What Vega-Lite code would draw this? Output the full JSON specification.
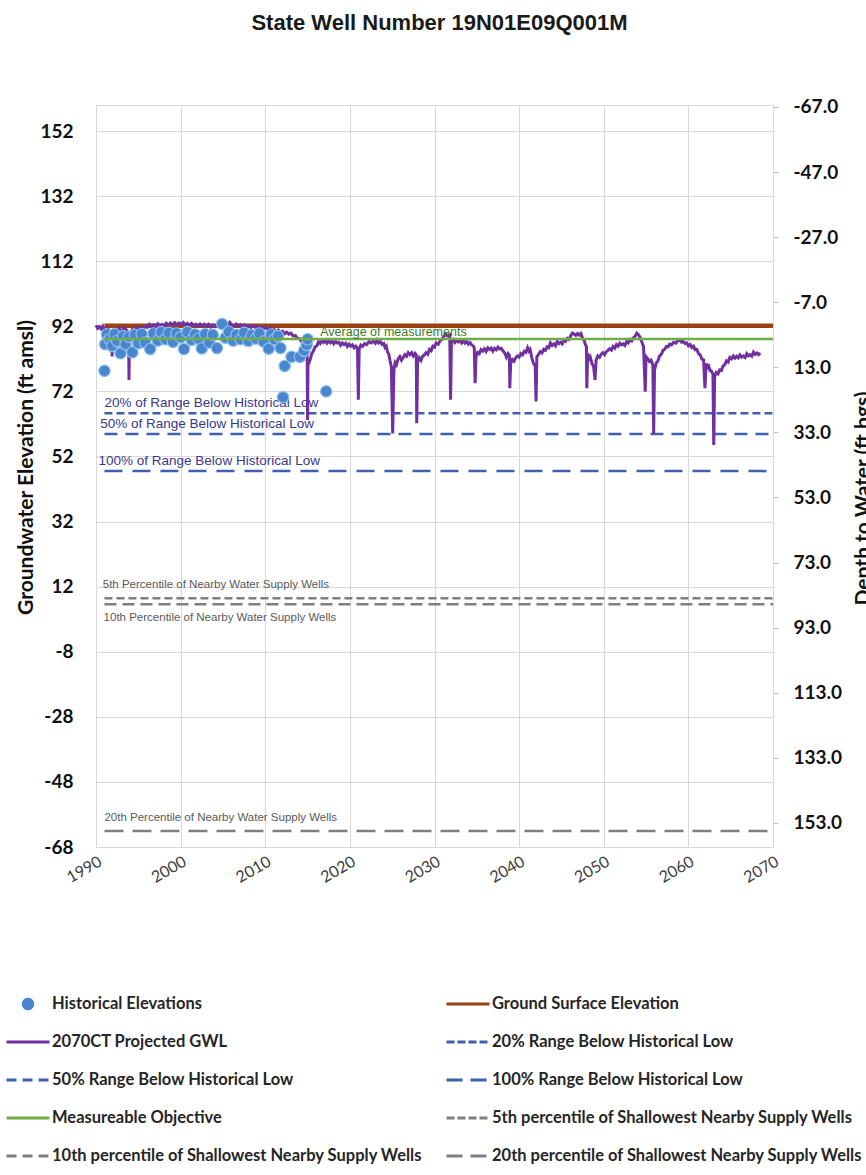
{
  "$schema": "https://vega.github.io/schema/vega-lite/v6.json",
  "width": 677,
  "height": 742,
  "autosize": {"type": "none"},
  "padding": {"left": 96, "top": 105, "right": 93, "bottom": 328},
  "background": "white",
  "title": {"text": "State Well Number 19N01E09Q001M", "font": "Liberation Sans", "fontSize": 22, "fontWeight": "bold", "color": "#1a1a1a", "anchor": "middle", "frame": "group", "offset": 63, "dx": 5},
  "config": {
    "view": {"stroke": "#D9D9D9", "strokeWidth": 1},
    "axis": {"gridColor": "#D9D9D9", "gridWidth": 1},
    "font": "Lato"
  },
  "datasets": {
    "gwl": [
      {"year": 1990.0, "elev": 92.3}, {"year": 1990.2, "elev": 91.4}, {"year": 1990.4, "elev": 91.9}, {"year": 1990.6, "elev": 91.2}, {"year": 1990.8, "elev": 92.0}, {"year": 1991.0, "elev": 90.6}, {"year": 1991.2, "elev": 90.2},
      {"year": 1991.4, "elev": 91.3}, {"year": 1991.6, "elev": 90.6}, {"year": 1991.85, "elev": 89.5}, {"year": 1991.9, "elev": 82.7}, {"year": 1991.95, "elev": 89.0},
      {"year": 1992.1, "elev": 90.3}, {"year": 1992.3, "elev": 90.8}, {"year": 1992.5, "elev": 90.1}, {"year": 1992.7, "elev": 91.4}, {"year": 1992.9, "elev": 90.8}, {"year": 1993.1, "elev": 90.5}, {"year": 1993.3, "elev": 91.5}, {"year": 1993.5, "elev": 91.2},
      {"year": 1993.85, "elev": 89.8}, {"year": 1993.9, "elev": 75.5}, {"year": 1993.95, "elev": 89.5}, {"year": 1994.1, "elev": 90.2}, {"year": 1994.3, "elev": 91.0},
      {"year": 1994.55, "elev": 90.4}, {"year": 1994.8, "elev": 91.8}, {"year": 1995.05, "elev": 91.0}, {"year": 1995.3, "elev": 91.6}, {"year": 1995.55, "elev": 91.0}, {"year": 1995.8, "elev": 92.0}, {"year": 1996.05, "elev": 91.7}, {"year": 1996.3, "elev": 92.6},
      {"year": 1996.55, "elev": 91.9}, {"year": 1996.8, "elev": 92.5}, {"year": 1997.05, "elev": 92.0}, {"year": 1997.3, "elev": 92.8}, {"year": 1997.55, "elev": 92.1}, {"year": 1997.8, "elev": 92.6}, {"year": 1998.05, "elev": 92.0}, {"year": 1998.3, "elev": 92.9},
      {"year": 1998.55, "elev": 92.3}, {"year": 1998.8, "elev": 93.0}, {"year": 1999.05, "elev": 92.4}, {"year": 1999.3, "elev": 93.1}, {"year": 1999.55, "elev": 92.5}, {"year": 1999.8, "elev": 93.0}, {"year": 2000.05, "elev": 92.6}, {"year": 2000.3, "elev": 93.2},
      {"year": 2000.55, "elev": 92.4}, {"year": 2000.8, "elev": 92.9}, {"year": 2001.05, "elev": 92.3}, {"year": 2001.3, "elev": 92.9}, {"year": 2001.55, "elev": 92.1}, {"year": 2001.8, "elev": 92.6}, {"year": 2002.05, "elev": 92.0}, {"year": 2002.3, "elev": 92.7},
      {"year": 2002.55, "elev": 92.1}, {"year": 2002.8, "elev": 92.6}, {"year": 2003.05, "elev": 91.9}, {"year": 2003.3, "elev": 92.6}, {"year": 2003.55, "elev": 91.8}, {"year": 2003.8, "elev": 92.4}, {"year": 2004.05, "elev": 91.9}, {"year": 2004.3, "elev": 92.5},
      {"year": 2004.55, "elev": 92.0}, {"year": 2004.8, "elev": 92.7}, {"year": 2005.05, "elev": 92.2}, {"year": 2005.3, "elev": 92.8}, {"year": 2005.55, "elev": 92.4}, {"year": 2005.8, "elev": 93.2}, {"year": 2006.05, "elev": 92.4}, {"year": 2006.3, "elev": 92.0},
      {"year": 2006.55, "elev": 92.7}, {"year": 2006.8, "elev": 92.1}, {"year": 2007.05, "elev": 92.5}, {"year": 2007.3, "elev": 91.8}, {"year": 2007.55, "elev": 92.4}, {"year": 2007.8, "elev": 91.9}, {"year": 2008.05, "elev": 92.3}, {"year": 2008.3, "elev": 91.6},
      {"year": 2008.55, "elev": 92.2}, {"year": 2008.8, "elev": 91.7}, {"year": 2009.05, "elev": 92.0}, {"year": 2009.3, "elev": 91.4}, {"year": 2009.55, "elev": 91.9}, {"year": 2009.8, "elev": 91.3}, {"year": 2010.05, "elev": 91.7}, {"year": 2010.3, "elev": 91.0},
      {"year": 2010.55, "elev": 91.4}, {"year": 2010.8, "elev": 90.6}, {"year": 2011.05, "elev": 91.0}, {"year": 2011.3, "elev": 90.2}, {"year": 2011.55, "elev": 90.8}, {"year": 2011.8, "elev": 90.1}, {"year": 2012.05, "elev": 90.5}, {"year": 2012.3, "elev": 89.7},
      {"year": 2012.55, "elev": 90.2}, {"year": 2012.8, "elev": 89.6}, {"year": 2013.05, "elev": 89.9}, {"year": 2013.3, "elev": 89.0}, {"year": 2013.55, "elev": 89.2}, {"year": 2013.8, "elev": 88.3}, {"year": 2014.05, "elev": 88.2}, {"year": 2014.3, "elev": 87.2},
      {"year": 2014.55, "elev": 86.9}, {"year": 2014.8, "elev": 85.8}, {"year": 2014.95, "elev": 84.0}, {"year": 2015.0, "elev": 63.2}, {"year": 2015.05, "elev": 80.0},
      {"year": 2015.3, "elev": 81.7}, {"year": 2015.5, "elev": 83.6}, {"year": 2015.7, "elev": 84.5}, {"year": 2015.9, "elev": 85.7}, {"year": 2016.1, "elev": 86.0}, {"year": 2016.3, "elev": 87.3}, {"year": 2016.5, "elev": 86.7},
      {"year": 2016.7, "elev": 87.6}, {"year": 2016.9, "elev": 87.0}, {"year": 2017.1, "elev": 87.6}, {"year": 2017.3, "elev": 86.8}, {"year": 2017.5, "elev": 87.5}, {"year": 2017.7, "elev": 86.9}, {"year": 2017.9, "elev": 87.4}, {"year": 2018.1, "elev": 86.6},
      {"year": 2018.3, "elev": 87.4}, {"year": 2018.5, "elev": 86.9}, {"year": 2018.7, "elev": 87.1}, {"year": 2018.9, "elev": 86.2}, {"year": 2019.1, "elev": 86.9}, {"year": 2019.3, "elev": 86.4}, {"year": 2019.5, "elev": 86.8}, {"year": 2019.7, "elev": 85.8},
      {"year": 2019.9, "elev": 86.5}, {"year": 2020.1, "elev": 85.9}, {"year": 2020.3, "elev": 86.3}, {"year": 2020.5, "elev": 85.4}, {"year": 2020.7, "elev": 85.9}, {"year": 2020.9, "elev": 85.2}, {"year": 2021.0, "elev": 69.4},
      {"year": 2021.1, "elev": 85.0}, {"year": 2021.3, "elev": 86.2}, {"year": 2021.5, "elev": 85.8}, {"year": 2021.75, "elev": 86.7}, {"year": 2022.0, "elev": 86.4}, {"year": 2022.25, "elev": 87.3}, {"year": 2022.5, "elev": 86.9}, {"year": 2022.75, "elev": 87.4},
      {"year": 2023.0, "elev": 86.8}, {"year": 2023.2, "elev": 87.8}, {"year": 2023.4, "elev": 86.9}, {"year": 2023.6, "elev": 87.3}, {"year": 2023.8, "elev": 86.4}, {"year": 2024.0, "elev": 86.7},
      {"year": 2024.15, "elev": 85.5}, {"year": 2024.3, "elev": 85.9}, {"year": 2024.45, "elev": 84.1}, {"year": 2024.6, "elev": 83.5}, {"year": 2024.75, "elev": 81.4}, {"year": 2024.9, "elev": 79.6}, {"year": 2025.06, "elev": 59.1},
      {"year": 2025.2, "elev": 78.6}, {"year": 2025.35, "elev": 80.8}, {"year": 2025.5, "elev": 80.2}, {"year": 2025.7, "elev": 82.0}, {"year": 2025.9, "elev": 82.7}, {"year": 2026.1, "elev": 81.6}, {"year": 2026.3, "elev": 82.4},
      {"year": 2026.5, "elev": 83.3}, {"year": 2026.7, "elev": 82.8}, {"year": 2026.9, "elev": 83.9}, {"year": 2027.1, "elev": 83.3}, {"year": 2027.3, "elev": 83.9}, {"year": 2027.5, "elev": 82.9}, {"year": 2027.7, "elev": 83.7}, {"year": 2027.85, "elev": 83.2},
      {"year": 2027.9, "elev": 62.2}, {"year": 2028.0, "elev": 81.0}, {"year": 2028.2, "elev": 82.3}, {"year": 2028.4, "elev": 81.5}, {"year": 2028.6, "elev": 82.8}, {"year": 2028.8, "elev": 83.2}, {"year": 2029.0, "elev": 83.9},
      {"year": 2029.2, "elev": 83.4}, {"year": 2029.4, "elev": 84.9}, {"year": 2029.6, "elev": 84.5}, {"year": 2029.8, "elev": 85.9}, {"year": 2030.0, "elev": 85.6}, {"year": 2030.2, "elev": 86.9}, {"year": 2030.45, "elev": 86.5},
      {"year": 2030.7, "elev": 87.7}, {"year": 2030.9, "elev": 88.0}, {"year": 2031.1, "elev": 88.9}, {"year": 2031.3, "elev": 89.6}, {"year": 2031.5, "elev": 89.1}, {"year": 2031.8, "elev": 89.4},
      {"year": 2031.9, "elev": 69.4}, {"year": 2032.0, "elev": 87.3}, {"year": 2032.2, "elev": 87.9}, {"year": 2032.4, "elev": 87.0}, {"year": 2032.6, "elev": 87.7}, {"year": 2032.8, "elev": 87.2}, {"year": 2033.0, "elev": 87.8},
      {"year": 2033.2, "elev": 86.9}, {"year": 2033.4, "elev": 87.5}, {"year": 2033.6, "elev": 86.8}, {"year": 2033.8, "elev": 87.4}, {"year": 2034.0, "elev": 86.5}, {"year": 2034.2, "elev": 87.0}, {"year": 2034.4, "elev": 86.3},
      {"year": 2034.6, "elev": 85.9}, {"year": 2034.7, "elev": 85.3}, {"year": 2034.8, "elev": 74.5}, {"year": 2034.9, "elev": 82.7}, {"year": 2035.1, "elev": 84.0}, {"year": 2035.3, "elev": 83.6}, {"year": 2035.5, "elev": 84.8},
      {"year": 2035.7, "elev": 84.4}, {"year": 2035.9, "elev": 85.1}, {"year": 2036.1, "elev": 84.3}, {"year": 2036.3, "elev": 85.4}, {"year": 2036.5, "elev": 84.9}, {"year": 2036.7, "elev": 85.3}, {"year": 2036.9, "elev": 84.4},
      {"year": 2037.1, "elev": 85.2}, {"year": 2037.3, "elev": 84.8}, {"year": 2037.5, "elev": 85.6}, {"year": 2037.7, "elev": 85.0}, {"year": 2037.9, "elev": 85.2}, {"year": 2038.1, "elev": 84.4}, {"year": 2038.3, "elev": 83.8}, {"year": 2038.5, "elev": 82.5},
      {"year": 2038.7, "elev": 83.6}, {"year": 2038.85, "elev": 83.1}, {"year": 2038.9, "elev": 73.0}, {"year": 2039.0, "elev": 80.6}, {"year": 2039.2, "elev": 81.8}, {"year": 2039.4, "elev": 81.3}, {"year": 2039.6, "elev": 82.4},
      {"year": 2039.8, "elev": 82.9}, {"year": 2040.0, "elev": 82.5}, {"year": 2040.2, "elev": 83.6}, {"year": 2040.4, "elev": 83.2}, {"year": 2040.6, "elev": 84.3}, {"year": 2040.8, "elev": 84.0}, {"year": 2041.0, "elev": 85.4},
      {"year": 2041.15, "elev": 84.4}, {"year": 2041.3, "elev": 84.9}, {"year": 2041.5, "elev": 82.3}, {"year": 2041.7, "elev": 80.6}, {"year": 2041.9, "elev": 79.8}, {"year": 2042.0, "elev": 68.9}, {"year": 2042.1, "elev": 82.7},
      {"year": 2042.3, "elev": 83.4}, {"year": 2042.5, "elev": 84.2}, {"year": 2042.7, "elev": 83.8}, {"year": 2042.9, "elev": 84.9}, {"year": 2043.1, "elev": 84.6}, {"year": 2043.3, "elev": 85.7}, {"year": 2043.5, "elev": 85.4},
      {"year": 2043.7, "elev": 86.9}, {"year": 2043.9, "elev": 86.1}, {"year": 2044.1, "elev": 86.6}, {"year": 2044.3, "elev": 86.0}, {"year": 2044.5, "elev": 87.4}, {"year": 2044.7, "elev": 86.7}, {"year": 2044.9, "elev": 87.1},
      {"year": 2045.1, "elev": 86.6}, {"year": 2045.3, "elev": 87.8}, {"year": 2045.5, "elev": 87.4}, {"year": 2045.7, "elev": 88.3}, {"year": 2045.9, "elev": 88.0}, {"year": 2046.1, "elev": 89.1}, {"year": 2046.3, "elev": 89.9},
      {"year": 2046.5, "elev": 89.6}, {"year": 2046.7, "elev": 89.2}, {"year": 2046.9, "elev": 89.8}, {"year": 2047.1, "elev": 89.3}, {"year": 2047.3, "elev": 89.8}, {"year": 2047.5, "elev": 88.3}, {"year": 2047.7, "elev": 87.6},
      {"year": 2047.8, "elev": 86.6}, {"year": 2047.95, "elev": 85.8}, {"year": 2048.0, "elev": 73.0}, {"year": 2048.1, "elev": 83.7}, {"year": 2048.25, "elev": 82.0}, {"year": 2048.4, "elev": 82.6}, {"year": 2048.6, "elev": 80.6},
      {"year": 2048.8, "elev": 79.6}, {"year": 2048.97, "elev": 75.5}, {"year": 2049.1, "elev": 81.7}, {"year": 2049.3, "elev": 82.9}, {"year": 2049.5, "elev": 82.5}, {"year": 2049.7, "elev": 83.4}, {"year": 2049.9, "elev": 83.9},
      {"year": 2050.1, "elev": 83.3}, {"year": 2050.3, "elev": 84.2}, {"year": 2050.5, "elev": 84.6}, {"year": 2050.7, "elev": 85.1}, {"year": 2050.9, "elev": 84.7}, {"year": 2051.1, "elev": 85.8}, {"year": 2051.3, "elev": 85.3},
      {"year": 2051.5, "elev": 86.4}, {"year": 2051.7, "elev": 85.9}, {"year": 2051.9, "elev": 86.8}, {"year": 2052.1, "elev": 86.3}, {"year": 2052.3, "elev": 86.6}, {"year": 2052.5, "elev": 86.1}, {"year": 2052.7, "elev": 87.3},
      {"year": 2052.9, "elev": 86.9}, {"year": 2053.1, "elev": 87.9}, {"year": 2053.3, "elev": 87.5}, {"year": 2053.5, "elev": 88.5}, {"year": 2053.7, "elev": 88.9}, {"year": 2053.9, "elev": 89.9}, {"year": 2054.1, "elev": 89.4},
      {"year": 2054.3, "elev": 88.6}, {"year": 2054.5, "elev": 87.2}, {"year": 2054.7, "elev": 85.8}, {"year": 2054.9, "elev": 71.9}, {"year": 2055.0, "elev": 82.7}, {"year": 2055.2, "elev": 82.1}, {"year": 2055.4, "elev": 81.2},
      {"year": 2055.6, "elev": 81.6}, {"year": 2055.8, "elev": 80.1}, {"year": 2055.9, "elev": 59.1}, {"year": 2056.0, "elev": 78.6}, {"year": 2056.2, "elev": 80.7}, {"year": 2056.4, "elev": 81.4}, {"year": 2056.6, "elev": 82.9},
      {"year": 2056.8, "elev": 83.4}, {"year": 2057.0, "elev": 84.6}, {"year": 2057.2, "elev": 84.9}, {"year": 2057.4, "elev": 85.8}, {"year": 2057.6, "elev": 85.7}, {"year": 2057.8, "elev": 86.5}, {"year": 2058.0, "elev": 86.3},
      {"year": 2058.25, "elev": 87.1}, {"year": 2058.5, "elev": 86.8}, {"year": 2058.75, "elev": 87.5}, {"year": 2059.0, "elev": 87.8}, {"year": 2059.2, "elev": 87.1}, {"year": 2059.4, "elev": 87.4}, {"year": 2059.6, "elev": 86.7},
      {"year": 2059.8, "elev": 86.9}, {"year": 2060.0, "elev": 86.0}, {"year": 2060.2, "elev": 86.4}, {"year": 2060.4, "elev": 85.5}, {"year": 2060.6, "elev": 85.9}, {"year": 2060.8, "elev": 84.8}, {"year": 2061.0, "elev": 84.9},
      {"year": 2061.2, "elev": 83.6}, {"year": 2061.4, "elev": 83.2}, {"year": 2061.6, "elev": 81.9}, {"year": 2061.8, "elev": 81.7}, {"year": 2061.96, "elev": 73.0}, {"year": 2062.1, "elev": 80.6}, {"year": 2062.25, "elev": 79.4},
      {"year": 2062.4, "elev": 79.8}, {"year": 2062.55, "elev": 78.4}, {"year": 2062.7, "elev": 78.3}, {"year": 2062.9, "elev": 77.4}, {"year": 2063.0, "elev": 55.5}, {"year": 2063.1, "elev": 76.5}, {"year": 2063.3, "elev": 77.8},
      {"year": 2063.5, "elev": 77.4}, {"year": 2063.7, "elev": 78.6}, {"year": 2063.9, "elev": 78.4}, {"year": 2064.1, "elev": 79.8}, {"year": 2064.3, "elev": 80.2}, {"year": 2064.5, "elev": 81.4}, {"year": 2064.7, "elev": 81.0},
      {"year": 2064.9, "elev": 82.4}, {"year": 2065.1, "elev": 82.0}, {"year": 2065.3, "elev": 82.9}, {"year": 2065.5, "elev": 82.2}, {"year": 2065.7, "elev": 82.8}, {"year": 2065.9, "elev": 82.3}, {"year": 2066.1, "elev": 83.2},
      {"year": 2066.3, "elev": 82.5}, {"year": 2066.5, "elev": 82.9}, {"year": 2066.7, "elev": 82.4}, {"year": 2066.9, "elev": 83.6}, {"year": 2067.1, "elev": 82.9}, {"year": 2067.3, "elev": 83.3}, {"year": 2067.5, "elev": 82.8},
      {"year": 2067.7, "elev": 84.1}, {"year": 2067.9, "elev": 83.4}, {"year": 2068.1, "elev": 83.8}, {"year": 2068.3, "elev": 83.3}, {"year": 2068.5, "elev": 83.8}
    ],
    "hist": [
      {"year": 1991.0, "elev": 78.3}, {"year": 1991.1, "elev": 86.5}, {"year": 1991.3, "elev": 89.5}, {"year": 1991.6, "elev": 88.0},
      {"year": 1991.9, "elev": 86.0}, {"year": 1992.2, "elev": 89.6}, {"year": 1992.5, "elev": 87.5}, {"year": 1992.9, "elev": 83.7},
      {"year": 1993.2, "elev": 89.0}, {"year": 1993.5, "elev": 86.5}, {"year": 1993.9, "elev": 88.8}, {"year": 1994.3, "elev": 84.0},
      {"year": 1994.6, "elev": 89.3}, {"year": 1995.0, "elev": 86.8}, {"year": 1995.4, "elev": 89.6}, {"year": 1995.8, "elev": 87.0},
      {"year": 1996.4, "elev": 85.0}, {"year": 1996.8, "elev": 89.8}, {"year": 1997.3, "elev": 87.6}, {"year": 1997.7, "elev": 90.2},
      {"year": 1998.2, "elev": 88.0}, {"year": 1998.6, "elev": 90.0}, {"year": 1999.1, "elev": 87.2}, {"year": 1999.5, "elev": 89.8},
      {"year": 2000.0, "elev": 88.6}, {"year": 2000.4, "elev": 85.0}, {"year": 2000.8, "elev": 90.2}, {"year": 2001.3, "elev": 87.8},
      {"year": 2001.7, "elev": 89.5}, {"year": 2002.1, "elev": 88.2}, {"year": 2002.5, "elev": 85.2}, {"year": 2002.9, "elev": 89.6},
      {"year": 2003.4, "elev": 87.0}, {"year": 2003.8, "elev": 89.4}, {"year": 2004.3, "elev": 85.3}, {"year": 2004.9, "elev": 92.7},
      {"year": 2005.3, "elev": 88.5}, {"year": 2005.7, "elev": 90.3}, {"year": 2006.2, "elev": 87.6}, {"year": 2006.6, "elev": 89.4},
      {"year": 2007.1, "elev": 88.0}, {"year": 2007.5, "elev": 90.0}, {"year": 2008.0, "elev": 87.5}, {"year": 2008.4, "elev": 89.3},
      {"year": 2008.9, "elev": 88.2}, {"year": 2009.3, "elev": 89.8}, {"year": 2009.8, "elev": 87.3}, {"year": 2010.4, "elev": 85.1},
      {"year": 2010.7, "elev": 89.5}, {"year": 2011.1, "elev": 88.0}, {"year": 2011.5, "elev": 89.0}, {"year": 2011.8, "elev": 85.3},
      {"year": 2012.1, "elev": 70.2}, {"year": 2012.3, "elev": 79.8}, {"year": 2013.1, "elev": 82.6}, {"year": 2014.1, "elev": 82.6},
      {"year": 2014.6, "elev": 84.5}, {"year": 2014.9, "elev": 86.3}, {"year": 2015.0, "elev": 88.0}, {"year": 2017.2, "elev": 72.0}
    ],
    "refs": [
      {"series": "Ground Surface Elevation", "year": 1991.0, "end": 2070, "elev": 92.2},
      {"series": "Measureable Objective", "year": 1991.0, "end": 2070, "elev": 88.1},
      {"series": "20% Range Below Historical Low", "year": 1991.0, "end": 2070, "elev": 65.3},
      {"series": "50% Range Below Historical Low", "year": 1991.0, "end": 2070, "elev": 58.9},
      {"series": "100% Range Below Historical Low", "year": 1991.0, "end": 2070, "elev": 47.5},
      {"series": "5th percentile of Shallowest Nearby Supply Wells", "year": 1991.0, "end": 2070, "elev": 8.4},
      {"series": "10th percentile of Shallowest Nearby Supply Wells", "year": 1991.0, "end": 2070, "elev": 6.6},
      {"series": "20th percentile of Shallowest Nearby Supply Wells", "year": 1991.0, "end": 2070, "elev": -63.1}
    ],
    "notes": [
      {"year": 1991.0, "elev": 65.3, "text": "20% of Range Below Historical Low"},
      {"year": 1990.5, "elev": 58.9, "text": "50% of Range Below Historical Low"},
      {"year": 1990.3, "elev": 47.5, "text": "100% of Range Below Historical Low"},
      {"year": 1990.8, "elev": 8.4, "text": "5th Percentile of Nearby Water Supply Wells"},
      {"year": 1990.9, "elev": 6.6, "text": "10th Percentile of Nearby Water Supply Wells"},
      {"year": 1991.0, "elev": -63.1, "text": "20th Percentile of Nearby Water Supply Wells"},
      {"year": 2016.5, "elev": 88.1, "text": "Average of measurements"}
    ]
  },
  "layer": [
    {
      "encoding": {
        "x": {
          "field": "year", "type": "quantitative",
          "scale": {"domain": [1990, 2070], "nice": false, "zero": false},
          "axis": {
            "title": null, "values": [1990, 2000, 2010, 2020, 2030, 2040, 2050, 2060, 2070], "format": "d",
            "grid": true, "ticks": false, "domain": false, "labelAngle": -30, "labelAlign": "right", "labelBaseline": "top",
            "labelPadding": 6, "labelFont": "Lato", "labelFontSize": 16, "labelColor": "#404040", "labelFlush": false, "labelOverlap": false
          }
        },
        "y": {
          "field": "elev", "type": "quantitative",
          "scale": {"domain": [-68, 160], "nice": false, "zero": false},
          "axis": {
            "title": "Groundwater Elevation (ft amsl)", "values": [-68, -48, -28, -8, 12, 32, 52, 72, 92, 112, 132, 152],
            "labelExpr": "replace(datum.label, '\u2212', '-')",
            "grid": true, "ticks": false, "tickSize": 0, "domain": false, "labelPadding": 23,
            "labelFont": "Lato", "labelFontSize": 19, "labelFontWeight": "bold", "labelColor": "#111111", "labelOverlap": false,
            "titleFont": "Lato", "titleFontSize": 21, "titleFontWeight": "bold", "titleColor": "#111111",
            "titleAngle": 270, "titleAlign": "center", "titleBaseline": "middle", "titleX": -70, "titleY": 362
          }
        }
      },
      "layer": [
        {
          "data": {"name": "refs"},
          "transform": [{"filter": "datum.series === 'Ground Surface Elevation'"}],
          "mark": {"type": "rule", "strokeWidth": 4.5, "strokeCap": "butt"},
          "encoding": {
            "x2": {"field": "end"},
            "color": {
              "field": "series", "type": "nominal",
              "scale": {
                "domain": ["Historical Elevations", "2070CT Projected GWL", "50% Range Below Historical Low", "Measureable Objective", "10th percentile of Shallowest Nearby Supply Wells", "Ground Surface Elevation", "20% Range Below Historical Low", "100% Range Below Historical Low", "5th percentile of Shallowest Nearby Supply Wells", "20th percentile of Shallowest Nearby Supply Wells"],
                "range": ["#4A86CF", "#7030A0", "#3F5FAF", "#70AD47", "#7F7F7F", "#9C4212", "#3F5FAF", "#3F5FAF", "#7F7F7F", "#7F7F7F"]
              },
              "legend": {
                "title": null, "orient": "none", "legendX": -91, "legendY": 890, "columns": 2, "padding": 0,
                "symbolSize": 1849, "symbolStrokeWidth": 3, "clipHeight": 18, "rowPadding": 20, "columnPadding": 22,
                "labelFont": "Lato", "labelFontSize": 16.5, "labelFontWeight": "bold", "labelColor": "#262626", "labelOffset": 1, "labelLimit": 600,
                "encode": {
                  "symbols": {
                    "update": {
                      "shape": {"signal": "datum.value === 'Historical Elevations' ? 'M-0.22,0A0.22,0.22,0,1,0,0.22,0A0.22,0.22,0,1,0,-0.22,0Z' : 'stroke'"},
                      "fill": {"signal": "datum.value === 'Historical Elevations' ? '#4A86CF' : 'transparent'"},
                      "stroke": {"signal": "datum.value === 'Historical Elevations' ? '#5B95D8' : datum.value === 'Ground Surface Elevation' ? '#9C4212' : datum.value === '2070CT Projected GWL' ? '#7030A0' : datum.value === 'Measureable Objective' ? '#70AD47' : indexof(datum.value, 'Shallowest') >= 0 ? '#7F7F7F' : '#3F5FAF'"},
                      "strokeDash": {"signal": "(indexof(datum.value, '20% Range') === 0 || indexof(datum.value, '5th') === 0) ? [8, 3] : ((indexof(datum.value, '50%') === 0 || indexof(datum.value, '10th') === 0) ? [10, 6] : ((indexof(datum.value, '100%') === 0 || indexof(datum.value, '20th') === 0) ? [16, 8] : [1, 0]))"},
                      "opacity": {"value": 1}
                    }
                  }
                }
              }
            }
          }
        },
        {
          "data": {"name": "refs"},
          "transform": [{"filter": "datum.series !== 'Ground Surface Elevation' && datum.series !== 'Measureable Objective'"}],
          "mark": {"type": "rule", "strokeWidth": 2.5, "strokeCap": "butt"},
          "encoding": {
            "x2": {"field": "end"},
            "color": {"field": "series", "type": "nominal"},
            "strokeDash": {
              "field": "series", "type": "nominal", "legend": null,
              "scale": {
                "domain": ["20% Range Below Historical Low", "50% Range Below Historical Low", "100% Range Below Historical Low", "5th percentile of Shallowest Nearby Supply Wells", "10th percentile of Shallowest Nearby Supply Wells", "20th percentile of Shallowest Nearby Supply Wells"],
                "range": [[8, 4], [13, 8], [18, 10], [8, 4], [12, 6], [19, 9]]
              }
            }
          }
        },
        {
          "data": {"name": "notes"},
          "transform": [{"filter": "indexof(datum.text, 'Range') >= 0"}],
          "mark": {"type": "text", "align": "left", "baseline": "middle", "dy": -10, "font": "Liberation Sans", "fontSize": 13.5, "color": "#38388A"},
          "encoding": {"text": {"field": "text"}}
        },
        {
          "data": {"name": "notes"},
          "transform": [{"filter": "indexof(datum.text, '5th') === 0 || indexof(datum.text, '20th') === 0"}],
          "mark": {"type": "text", "align": "left", "baseline": "middle", "dy": -13, "font": "Liberation Sans", "fontSize": 11.5, "color": "#595959"},
          "encoding": {"text": {"field": "text"}}
        },
        {
          "data": {"name": "notes"},
          "transform": [{"filter": "indexof(datum.text, '10th') === 0"}],
          "mark": {"type": "text", "align": "left", "baseline": "middle", "dy": 14, "font": "Liberation Sans", "fontSize": 11.5, "color": "#595959"},
          "encoding": {"text": {"field": "text"}}
        },
        {
          "data": {"name": "gwl"},
          "mark": {"type": "line", "strokeWidth": 3, "interpolate": "linear"},
          "encoding": {"color": {"datum": "2070CT Projected GWL", "type": "nominal"}}
        },
        {
          "data": {"name": "hist"},
          "mark": {"type": "point", "filled": true, "size": 130, "stroke": "#8CBDEB", "strokeWidth": 1.2, "opacity": 1},
          "encoding": {"color": {"datum": "Historical Elevations", "type": "nominal"}}
        },
        {
          "data": {"name": "refs"},
          "transform": [{"filter": "datum.series === 'Measureable Objective'"}],
          "mark": {"type": "rule", "strokeWidth": 2.5, "strokeCap": "butt"},
          "encoding": {
            "x2": {"field": "end"},
            "color": {"field": "series", "type": "nominal"}
          }
        },
        {
          "data": {"name": "notes"},
          "transform": [{"filter": "indexof(datum.text, 'Average') === 0"}],
          "mark": {"type": "text", "align": "left", "baseline": "middle", "dy": -7, "font": "Liberation Sans", "fontSize": 12.5, "color": "#3F7A2A"},
          "encoding": {"text": {"field": "text"}}
        }
      ]
    },
    {
      "data": {"values": [{"depth": 0}]},
      "mark": {"type": "point", "opacity": 0},
      "encoding": {
        "y": {
          "field": "depth", "type": "quantitative",
          "scale": {"domain": [-67.6, 160.4], "reverse": true, "nice": false, "zero": false},
          "axis": {
            "orient": "right", "title": "Depth to Water (ft bgs)", "values": [-67, -47, -27, -7, 13, 33, 53, 73, 93, 113, 133, 153],
            "format": ".1f", "labelExpr": "replace(datum.label, '\u2212', '-')", "grid": false, "ticks": true, "tickSize": 5, "tickColor": "#BFBFBF", "domain": false,
            "labelPadding": 15, "labelFont": "Lato", "labelFontSize": 19, "labelFontWeight": "bold", "labelColor": "#111111", "labelOverlap": false,
            "titleFont": "Lato", "titleFontSize": 21, "titleFontWeight": "bold", "titleColor": "#111111",
            "titleAngle": 270, "titleAlign": "center", "titleBaseline": "middle", "titleX": 90, "titleY": 393
          }
        }
      }
    }
  ],
  "resolve": {"scale": {"y": "independent"}}
}
